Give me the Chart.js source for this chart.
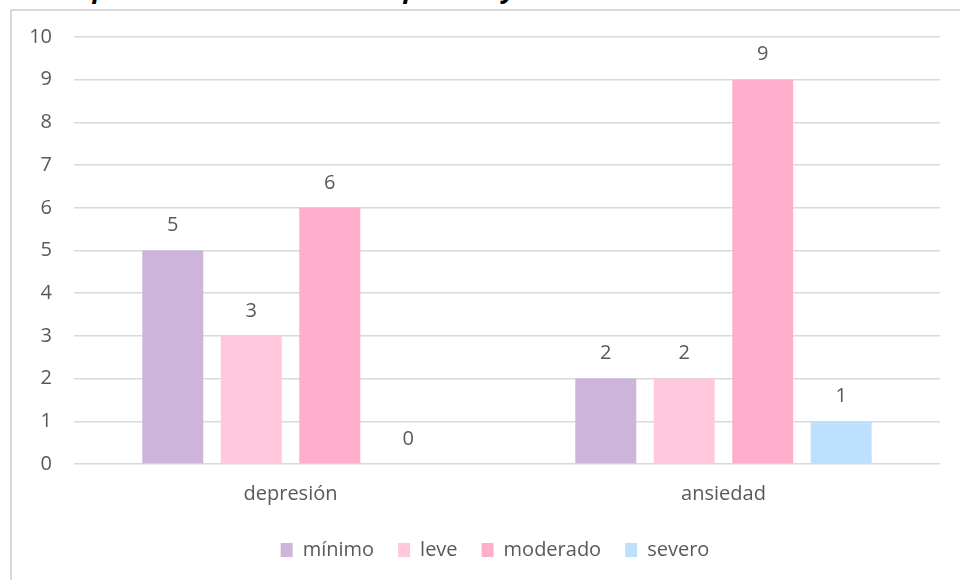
<!DOCTYPE html>
<html>
<head>
<meta charset="utf-8">
<script src="https://cdn.jsdelivr.net/npm/chart.js@4"></script>
<style>
  body { margin: 0; background: #fff; overflow: hidden; }
  #wrap { position: relative; width: 960px; height: 580px; overflow: hidden; }
  #title {
    position: absolute; left: 38px; top: -30px;
    font: italic bold 26px "Open Sans", sans-serif; color: #000; white-space: nowrap;
  }
  #frame {
    position: absolute; left: 10px; top: 9px; width: 980px; height: 600px;
    border-left: 2px solid #d9d9d9; border-top: 2px solid #d9d9d9;
  }
  #chart { position: absolute; left: 0; top: 0; }
</style>
</head>
<body>
<div id="wrap">
  <div id="title">Comparación de niveles de depresión y ansiedad</div>
  <div id="frame"></div>
  <canvas id="chart" width="960" height="580"></canvas>
</div>
<script>
const categorias = ['depresión', 'ansiedad'];
const niveles = ['mínimo', 'leve', 'moderado', 'severo'];
const valores = [
  [5, 2],   // mínimo
  [3, 2],   // leve
  [6, 9],   // moderado
  [0, 1]    // severo
];
const colores = ['#cdb4db', '#ffc8dd', '#ffafcc', '#bde0fe'];
const yTicks = [0, 1, 2, 3, 4, 5, 6, 7, 8, 9, 10];

const gris = '#595959';
const fuente = { family: '"Open Sans", sans-serif', size: 20 };

// escribe el valor encima de cada barra
const etiquetasValor = {
  id: 'etiquetasValor',
  afterDatasetsDraw(chart) {
    const ctx = chart.ctx;
    ctx.save();
    ctx.font = '20px "Open Sans", sans-serif';
    ctx.fillStyle = gris;
    ctx.textAlign = 'center';
    ctx.textBaseline = 'middle';
    chart.data.datasets.forEach((ds, i) => {
      chart.getDatasetMeta(i).data.forEach((bar, j) => {
        ctx.fillText(ds.data[j], bar.x, bar.y - 25);
      });
    });
    ctx.restore();
  }
};

// centra la leyenda bajo el área del gráfico y no bajo todo el lienzo
const leyendaCentrada = {
  id: 'leyendaCentrada',
  afterLayout(chart) {
    const l = chart.legend;
    if (!l) return;
    const dx = ((chart.chartArea.left + chart.chartArea.right) - (l.left + l.right)) / 2 - 12;
    l.left += dx;
    l.right += dx;
  }
};

const data = {
  labels: categorias,
  datasets: niveles.map((nivel, i) => ({
    label: nivel,
    data: valores[i],
    backgroundColor: colores[i],
    barPercentage: 0.777,
    categoryPercentage: 0.725
  }))
};

const options = {
  responsive: false,
  animation: false,
  layout: { padding: { left: 0, right: 20, top: 37, bottom: 10 } },
  plugins: {
    legend: {
      position: 'bottom',
      labels: { color: gris, font: fuente, boxWidth: 12, boxHeight: 14, padding: 24 }
    },
    tooltip: { enabled: false }
  },
  scales: {
    x: {
      grid: { display: false },
      border: { display: false },
      ticks: { color: gris, font: fuente, padding: 10 },
      afterFit(scale) { scale.height = 52; }
    },
    y: {
      min: 0,
      max: 10,
      afterBuildTicks(scale) { scale.ticks = yTicks.map(v => ({ value: v })); },
      grid: { color: '#d9d9d9', lineWidth: 1.5, drawTicks: false },
      border: { display: false },
      ticks: { color: gris, font: fuente, padding: 22 },
      afterFit(scale) { scale.width = 74; }
    }
  }
};

new Chart('chart', { type: 'bar', data, options, plugins: [etiquetasValor, leyendaCentrada] });
</script>
</body>
</html>
